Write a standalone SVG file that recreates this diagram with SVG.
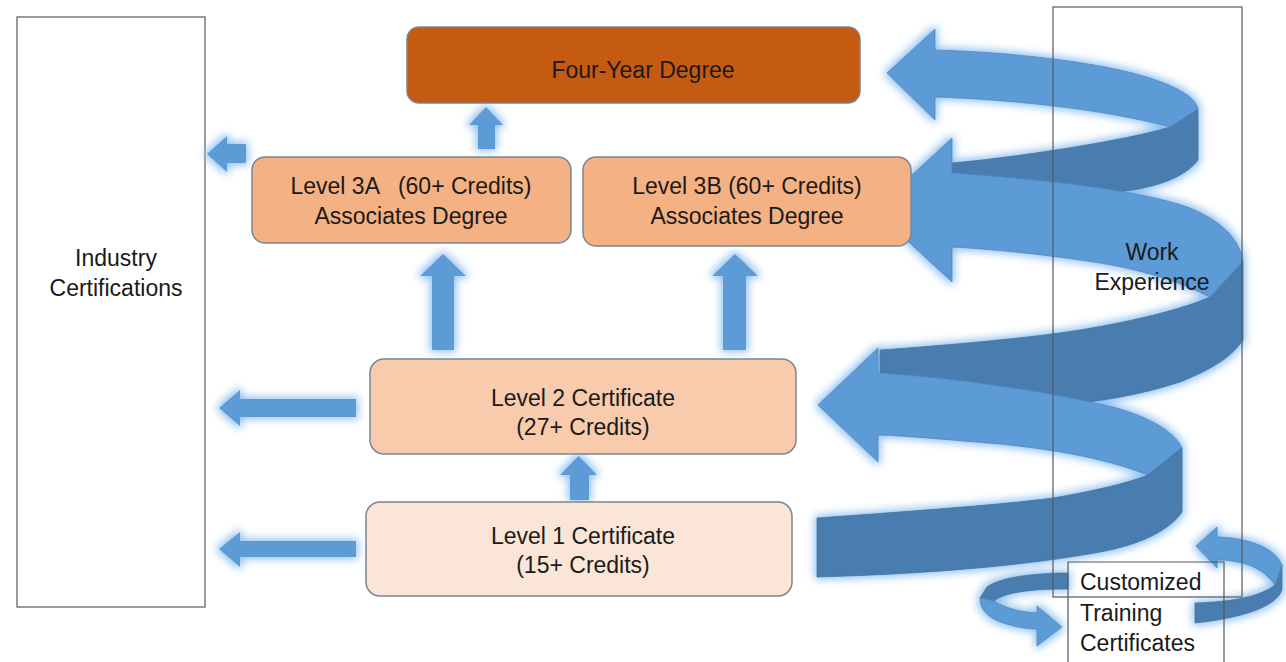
<svg xmlns="http://www.w3.org/2000/svg" width="1286" height="662" viewBox="0 0 1286 662">
<defs>
<filter id="glow" x="-20%" y="-20%" width="140%" height="140%">
<feMorphology in="SourceAlpha" operator="dilate" radius="2" result="d"/>
<feGaussianBlur in="d" stdDeviation="4" result="b"/>
<feFlood flood-color="#8FC0F0" flood-opacity="1"/>
<feComposite in2="b" operator="in" result="g"/>
<feMerge><feMergeNode in="g"/><feMergeNode in="SourceGraphic"/></feMerge>
</filter>
</defs>
<style>
.box{stroke:#7A8794;stroke-width:1.5}
.frame{fill:none;stroke:#595959;stroke-width:1.2}
.lbl{font-family:"Liberation Sans",Arial,sans-serif;font-size:23px;fill:#1A1A1A;text-anchor:middle}
.lft{font-family:"Liberation Sans",Arial,sans-serif;font-size:23px;fill:#1A1A1A}
.arr{fill:#5B9BD5}
.lt{fill:#5B9BD5;stroke:#4F88C0;stroke-width:0.8}
.dk{fill:#4A7DB0;stroke:#41719C;stroke-width:0.8}
</style>
<rect width="1286" height="662" fill="#FFFFFF"/>

<g id="industry">
<rect class="frame" x="17" y="17" width="188" height="590"/>
<text class="lbl" x="116" y="266">Industry</text>
<text class="lbl" x="116" y="296">Certifications</text>
</g>

<g id="connectors" filter="url(#glow)">
<path class="arr" d="M478,149 V125 H469 L486,107 L503,125 H495 V149 Z"/>
<path class="arr" d="M432,350 V276 H420 L443,254 L466,276 H454 V350 Z"/>
<path class="arr" d="M723,350 V276 H712 L735,254 L758,276 H746 V350 Z"/>
<path class="arr" d="M570,500 V475 H560 L578.5,456 L597,475 H589 V500 Z"/>
<path class="arr" d="M246,144 H227 V136 L207,154 L227,172 V163 H246 Z"/>
<path class="arr" d="M356,399 H240 V390 L219,408 L240,426 V417 H356 Z"/>
<path class="arr" d="M356,541 H240 V532 L219,549 L240,567 V557 H356 Z"/>
</g>

<g id="work-spiral" filter="url(#glow)">
<path class="dk" d="M952,163 C1010,158 1120,142 1170,127 L1198,109 L1198,160 C1186,176 1162,185 1133,190 C1080,198 1000,201 952,202 Z"/>
<path class="dk" d="M880,350 C950,345 1030,338 1080,330 C1140,320 1185,308 1210,297 L1243,261 L1243,340 C1232,356 1215,368 1180,382 C1140,395 1100,402 1050,406 L880,418 Z"/>
<path class="lt" d="M935,29 L935,50 C1010,52 1100,62 1150,78 C1180,88 1196,98 1198,109 L1170,127 C1100,108 1000,99 935,97 L935,120 L887,73 Z"/>
<path class="lt" d="M952,138 L952,173 C1050,180 1140,190 1190,208 C1222,221 1240,240 1243,261 L1210,297 C1180,282 1140,268 1080,260 C1040,254 990,249 952,247 L952,282 L874,210 Z"/>
<path class="lt" d="M878,348 L878,373 C950,377 1050,392 1113,407 C1150,417 1175,432 1182,448 L1148,475 C1110,460 1060,450 1000,444 C950,440 910,436 878,435 L878,462 L818,405 Z"/>
<path class="dk" d="M817,518 C900,512 1000,505 1053,498 C1100,490 1130,482 1148,475 L1182,448 L1182,512 C1170,530 1140,545 1100,552 C1030,565 930,574 817,577 Z"/>
<path class="dk" d="M1068,573 C1035,573 1000,577 987,587 L980,598 L994,601 C1005,593 1025,589 1068,589 Z"/>
<path class="lt" d="M980,598 C980,611 990,620 1010,625 C1020,628 1030,629 1037,629 L1037,646 L1062,627 L1037,606 L1037,613 C1020,612 1005,608 994,601 Z"/>
<path class="dk" d="M1195,603 C1230,602 1260,597 1275,585 L1282,565 L1282,590 C1275,608 1240,618 1195,623 Z"/>
<path class="lt" d="M1282,565 C1275,548 1250,538 1217,537 L1217,527 L1196,546 L1217,568 L1217,560 C1240,560 1262,566 1275,585 Z"/>
</g>

<g id="four-year">
<rect class="box" x="407" y="27" width="453" height="76" rx="12" fill="#C55A11"/>
<text class="lbl" x="643" y="78">Four-Year Degree</text>
</g>

<g id="level3a">
<rect class="box" x="252" y="157" width="319" height="86" rx="13" fill="#F4B183"/>
<text class="lbl" x="411" y="194" xml:space="preserve">Level 3A   (60+ Credits)</text>
<text class="lbl" x="411" y="224">Associates Degree</text>
</g>

<g id="level3b">
<rect class="box" x="583" y="157" width="328" height="89" rx="13" fill="#F4B183"/>
<text class="lbl" x="747" y="194">Level 3B (60+ Credits)</text>
<text class="lbl" x="747" y="224">Associates Degree</text>
</g>

<g id="level2">
<rect class="box" x="370" y="359" width="426" height="95" rx="14" fill="#F8CBAD"/>
<text class="lbl" x="583" y="406">Level 2 Certificate</text>
<text class="lbl" x="583" y="435">(27+ Credits)</text>
</g>

<g id="level1">
<rect class="box" x="366" y="502" width="426" height="94" rx="14" fill="#FBE5D6"/>
<text class="lbl" x="583" y="544">Level 1 Certificate</text>
<text class="lbl" x="583" y="573">(15+ Credits)</text>
</g>

<g id="work-experience">
<rect class="frame" x="1053" y="7" width="189" height="590"/>
<text class="lbl" x="1152" y="260">Work</text>
<text class="lbl" x="1152" y="290">Experience</text>
</g>

<g id="customized-training">
<path class="frame" d="M1068,662 V562 H1224 V662"/>
<text class="lft" x="1080" y="590">Customized</text>
<text class="lft" x="1080" y="621">Training</text>
<text class="lft" x="1080" y="651">Certificates</text>
</g>
</svg>
